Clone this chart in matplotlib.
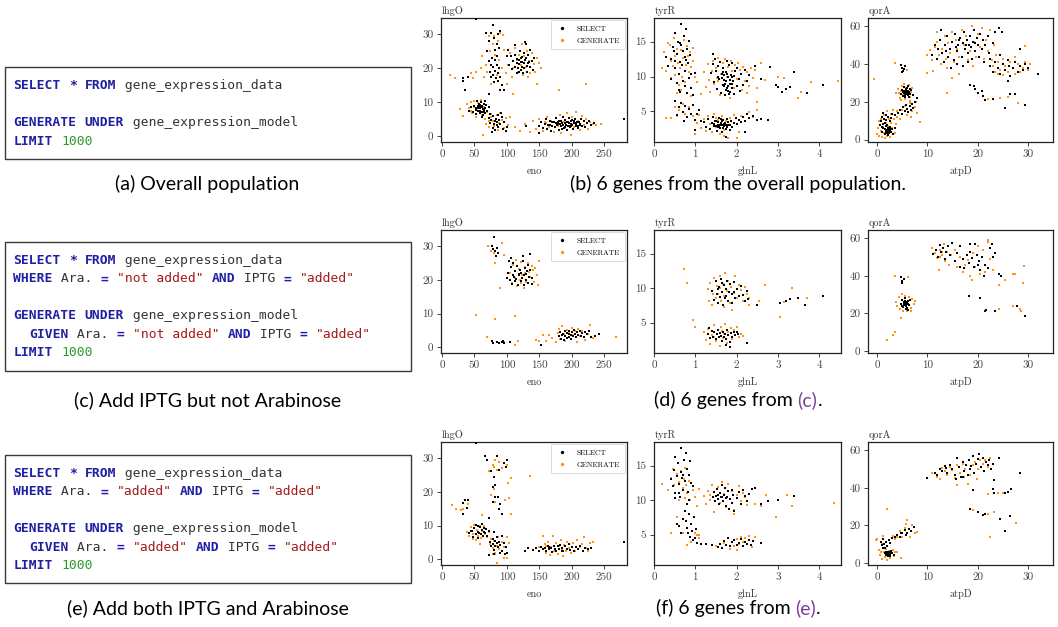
import matplotlib
matplotlib.use("Agg")
import matplotlib.pyplot as plt
from matplotlib.patches import Rectangle
from matplotlib.lines import Line2D

# ---------------------------------------------------------------- data
# (b) overall population
ALL_ENO_LHGO_SELECT = [
 (45,8.5),(48,7.2),(50,9),(52,7.8),(53,6.5),(55,8.8),(56,7.5),(57,9.6),(58,6.8),(59,8.2),(60,10.2),(61,7.1),(62,8.9),(63,6.2),(64,9.5),(65,7.7),(66,8.4),(67,6.9),(68,9.1),(70,7.4),(72,8.6),(74,6.5),(42,7.5),(54,10.3),(62,5.6),(58,9.3),(66,10.5),
 (56,8.2),(59,7.4),(61,8.6),(63,7.9),(57,8.8),(64,7.2),(60,9),(53,8.4),
 (72,5.5),(74,3.8),(76,4.8),(78,2.5),(79,5.9),(80,3.6),(81,4.6),(82,1.8),(83,5.2),(84,3.2),(85,4.2),(86,6.3),(87,2.8),(88,4.8),(90,3.5),(92,5.6),(94,2.2),(96,4.3),(98,1.5),(100,2.6),(91,6.8),(77,1.2),
 (72,22),(74,19),(75,17.5),(76,21),(77,23),(78,18),(79,20.5),(80,16),(81,22.5),(82,19.2),(83,17),(84,21),(85,23.5),(86,18.5),(87,16.2),(88,20),(90,17.5),(92,15),(70,25),(73,28),(75,30.5),(78,32.8),(80,29),(84,27),(86,30),(88,26),(90,31),(68,30.5),(82,25.5),(95,13.5),(72,12.3),
 (102,25.5),(104,21),(106,23.5),(108,19.8),(110,22.2),(112,24),(113,20.5),(115,18.7),(116,22.8),(118,21.2),(120,25),(121,19.5),(122,23),(124,21.8),(125,18.5),(126,24.5),(127,20.2),(128,22.4),(130,27.2),(131,19),(132,21.5),(133,23.8),(135,20.5),(136,25.5),(138,22),(140,19.5),(142,23),(112,26.8),(128,27.8),(118,18.9),(100,23.5),
 (115,21.5),(119,22.5),(123,20.5),(127,21.6),(130,23),(134,21.8),(117,20.2),(124,23.3),(131,20.8),(121,21.8),
 (150,3),(153,4.2),(156,2.5),(158,3.7),(160,5.1),(162,2.2),(164,3.4),(166,4.6),(168,1.5),(170,3),(172,4.1),(174,2.6),(176,5.3),(178,3.5),(180,1.8),(181,4.4),(183,2.9),(185,3.9),(186,5.6),(188,2.3),(190,4.8),(191,3.3),(193,1.9),(194,4.1),(196,5.4),(197,2.7),(199,3.6),(200,4.7),(202,2.1),(203,3.9),(205,5.2),(207,3),(208,4.3),(210,2.4),(212,3.7),(214,5),(216,3.1),(218,4.4),(220,2.6),(223,3.8),(226,4.6),(230,3.2),(234,3.9),(130,3),(150,0.9),(280,5.2),(52,34.5),(33,17),(35,13.5),(33,16.3),(40,17.5),(90,13.5),(185,2.0),(195,3.0),(205,3.8),(175,3.8),
 (177,3.2),(179,4.1),(182,3.6),(184,4.6),(187,3.4),(189,2.8),(192,4.3),(194,3.1),(196,3.8),(198,4.4),(201,3.2),(204,4.5),(206,3.5),(209,2.9),(211,4.2),(213,3.3),(189,3.9),(199,2.9),(170,4.3),(167,3.2)]
ALL_ENO_LHGO_GENERATE = [
 (28,8),(33,6),(38,9.5),(42,8.2),(45,10.2),(47,6.7),(50,8.6),(52,5.8),(55,9.7),(57,7.3),(60,10.8),(62,6.2),(64,8.7),(66,5.1),(68,9.2),(70,7),(72,4.6),(75,6.5),(50,10.5),(44,7.4),(63,0.5),
 (68,3.5),(72,2.6),(76,5.6),(80,3.1),(84,6.2),(86,1.8),(88,3.9),(92,4.9),(95,2.5),(98,5.5),(102,3.2),(105,5.8),(78,4.5),(90,6.8),
 (12,18),(20,17),(45,18.5),(48,17),(52,19),(60,20),(62,23.5),(65,17.5),(68,21),(70,19),(74,25),(76,15.5),(78,27),(80,29.5),(82,24),(84,18),(86,28),(88,22.5),(90,30.5),(92,20),(95,25.5),(98,18.5),(100,15.5),(72,29.5),(94,29.8),
 (102,21),(105,24.5),(108,17.5),(110,20),(113,26),(115,22.5),(117,19),(119,24),(121,21),(123,27),(125,18),(127,23.5),(129,20.5),(131,25),(134,22),(136,18.5),(138,24.5),(141,21.3),(144,19),(147,23),(150,21.5),(153,20),(146,15.5),(110,12.5),(132,17.5),
 (112,2.8),(120,1.5),(128,3.5),(135,1.2),(140,4.5),(145,2),(150,5),(155,1.5),(158,4.2),(162,5.8),(165,2.8),(168,4.5),(172,1.2),(175,5.5),(178,3),(182,6.3),(184,1),(187,4.2),(190,2.4),(192,6.8),(195,3.8),(198,0.5),(201,5.8),(204,2.8),(206,7.2),(209,4.5),(212,1.8),(215,6),(218,3.2),(222,5),(225,2.2),(228,4.3),(232,3.5),(238,3.2),(245,3.6),(180,13.5),(222,15.5),(160,3.8),(190,4.2),(200,3.5)]
ALL_GLNL_TYRR_SELECT = [
 (0.4,12.5),(0.45,14.2),(0.5,16.3),(0.5,11.2),(0.55,13.3),(0.58,15),(0.6,10.4),(0.62,12.1),(0.65,17.5),(0.66,14.5),(0.68,11.6),(0.7,13.6),(0.72,15.8),(0.74,12.8),(0.75,10.8),(0.78,16.8),(0.8,14),(0.82,11.9),(0.85,15.1),(0.88,13.1),(0.9,10.3),(0.35,11.5),(0.42,9.6),(0.48,13.7),(0.55,9.1),(0.6,8.1),(0.64,7.8),(0.7,9.4),(0.76,8.7),(0.8,7.6),(0.85,9.8),(0.9,8.4),(0.95,7.3),(1.0,10.5),(0.3,12.8),(0.52,12.3),(0.78,12.4),(0.62,14.8),
 (1.38,10.5),(1.42,11.8),(1.45,9.2),(1.5,10.8),(1.52,8.2),(1.55,11.5),(1.58,9.7),(1.6,12.1),(1.62,7.6),(1.64,10.3),(1.66,8.8),(1.68,11.2),(1.7,9.5),(1.72,7.3),(1.74,10.7),(1.76,12.3),(1.78,8.4),(1.8,9.9),(1.82,11.6),(1.84,7.8),(1.86,10.2),(1.88,8.9),(1.9,11.9),(1.92,9.4),(1.95,7.5),(1.97,10.8),(2.0,8.6),(2.02,11.3),(2.05,9.6),(2.08,7.9),(2.1,10.4),(2.15,8.8),(2.2,11),(2.25,9.3),(2.3,10.2),(1.75,8.1),(1.65,9.8),(1.85,9.0),(1.55,10.0),(1.95,10.1),(1.8,8.0),(1.7,10.2),(1.47,12.5),(1.43,13.3),
 (1.7,8.7),(1.75,9.3),(1.8,8.6),(1.85,9.5),(1.78,10.4),(1.72,9.0),(1.9,8.3),(1.82,7.5),(1.88,9.9),(1.68,10.6),
 (0.5,6.5),(0.55,4.5),(0.6,5.6),(0.65,6.2),(0.7,4.9),(0.75,5.8),(0.8,4.2),(0.85,5.3),(0.9,4.6),(0.95,5.9),(1.0,3.8),(1.05,4.6),(1.1,5.2),(1.15,3.6),(0.72,3.6),(1.0,2.3),
 (1.2,3.5),(1.25,2.8),(1.3,3.9),(1.35,2.5),(1.4,3.3),(1.42,4.2),(1.45,2.9),(1.5,3.6),(1.52,2.2),(1.55,3.1),(1.58,4),(1.6,2.6),(1.62,3.4),(1.65,2.1),(1.68,3.8),(1.7,2.9),(1.72,3.3),(1.75,2.5),(1.78,3.9),(1.8,3.1),(1.83,2.4),(1.86,3.6),(1.9,2.8),(1.94,3.4),(1.98,4.1),(2.02,3.2),(2.06,3.8),(2.1,3.5),(2.15,4.2),(2.2,3.7),(2.25,4.6),(2.3,4.0),(2.4,4.4),(1.75,1.3),(2.2,2.0),(1.55,2.7),(1.65,3.0),
 (1.45,3.2),(1.5,2.9),(1.55,3.5),(1.6,3.1),(1.65,3.6),(1.7,3.2),(1.75,3.0),(1.8,3.5),(1.58,2.8),(1.68,2.6),(1.78,2.8),(1.85,3.1),(1.48,3.7),(1.62,3.9),
 (2.5,3.8),(2.6,3.9),(2.75,3.8),(2.45,11.5),(2.8,11.4),(2.6,9.6),(2.95,8.8),(3.0,8.5),(3.1,7.8),(3.2,8.2),(3.3,8.5),(3.4,10.6),(3.7,7.6),(4.1,8.8)]
ALL_GLNL_TYRR_GENERATE = [
 (0.2,11.2),(0.25,13.5),(0.3,10.8),(0.35,14.8),(0.4,12.2),(0.42,9.8),(0.45,11.5),(0.48,15.5),(0.5,13),(0.52,10.2),(0.55,14),(0.58,12),(0.6,8.8),(0.62,11.3),(0.65,13.8),(0.68,10),(0.7,12.6),(0.72,15.2),(0.75,9.2),(0.78,11.7),(0.8,14.4),(0.82,12.9),(0.85,10.6),(0.88,13.5),(0.9,11.4),(0.95,12.2),(1.0,9.9),(0.55,7.6),(0.65,8.1),(0.9,7.2),(0.38,14.5),(0.95,14.1),(1.05,9.2),(1.15,7.5),
 (1.2,10.6),(1.25,8.5),(1.3,11.8),(1.33,9.5),(1.36,7.8),(1.4,10.8),(1.43,12.3),(1.46,8.9),(1.5,11.2),(1.53,9.8),(1.56,12.7),(1.6,7.3),(1.63,10.4),(1.66,11.9),(1.7,8.6),(1.73,12.5),(1.76,9.9),(1.8,11.4),(1.83,7),(1.86,12.2),(1.9,10.8),(1.93,8.3),(1.96,11.7),(2.0,9.6),(2.04,12),(2.08,10.9),(2.12,8.1),(2.16,11.4),(2.2,9.3),(2.25,10.6),(2.3,8.7),(2.35,11.3),(2.4,9.8),(2.45,10.9),(2.5,8.4),(1.55,9.3),(1.95,7.5),(2.25,7.6),
 (0.4,4),(0.5,5.6),(0.55,4.3),(0.6,5.2),(0.7,6),(0.75,4.7),(0.85,5.6),(0.95,4.4),(1.0,1.8),(1.05,3.4),(1.1,4.5),(1.15,2.6),(1.2,3.9),(1.25,2.2),(1.3,4.3),(1.35,3.2),(1.4,2),(1.45,4.6),(1.5,2.8),(1.55,3.8),(1.6,1.7),(1.65,4.4),(1.7,2.4),(1.75,3.6),(1.8,1.2),(1.85,4.1),(1.9,2.7),(1.95,4.5),(2.0,3.2),(2.05,2.1),(2.1,4.3),(2.2,3.6),(2.3,4.9),(2.4,4.2),(2.5,5.2),(2.5,6.3),(1.5,4.0),(1.7,1.5),(2.0,1.2),
 (2.6,12),(3.0,10),(3.15,9.8),(3.5,7),(3.55,7.8),(3.8,9.2),(4.45,9.3),(2.7,9.5),(0.3,4)]
ALL_ATPD_QORA_SELECT = [
 (11,45),(11.5,50),(12,43),(12.2,48),(12.5,53),(13,46),(13.3,41),(13.5,50),(14,55),(14.2,44),(14.5,48),(15,52),(15.3,42),(15.5,56),(16,47),(16.2,50),(16.5,54),(16.8,44),(17,51),(17.2,57),(17.5,48),(17.8,53),(18,46),(18.2,50),(18.5,55),(18.8,43),(19,52),(19.3,58),(19.5,47),(19.8,54),(20,50),(20.3,44),(20.5,56),(20.8,48),(21,53),(21.3,41),(21.5,50),(22,55),(22.3,46),(22.5,43),(23,51),(23.5,57),(24.2,59),(24.8,57),(12.8,58),(14.8,38),(16,40),(17,39),(18,41),(13.8,47),(15.8,49),(17.6,50),(19.4,51),(16.4,53),(18.6,49),
 (22.5,39),(23,36),(23.5,41),(24,38),(24.5,35),(25,40),(25.5,37),(26,42),(26.2,39),(26.5,34),(27,38),(27.5,41),(28,36),(28.5,39),(29,37),(29.5,40),(30,38),(26,31),(24.5,45),(32,35),(28.5,48),
 (4.8,24),(5,26.5),(5.2,23),(5.3,28),(5.5,25),(5.6,22.5),(5.7,27),(5.8,24.5),(6,26),(6.1,23.5),(6.2,28.5),(6.3,25.5),(6.5,24),(6.6,27),(5.4,26),(5.9,25.8),(6.4,22.6),(5.1,25.2),(6.8,26.5),(7.2,23.5),(8,22),
 (5.6,25.3),(5.8,25),(6,25.2),(5.5,24),(5.7,26),(5.9,24),(6.1,25),(5.4,24.8),(5.8,26.5),(6.2,25.8),(5.6,23.5),(6,27.3),
 (4.2,14),(4.6,16),(5,13.5),(5.2,17.5),(5.5,15),(5.8,18.5),(6,16.5),(6.2,14.5),(6.5,18),(6.8,16),(7,19),(7.2,17),(7.5,20),(3.5,13),
 (4.7,39.5),(5,38),(5.2,36.5),(5.5,39),(5.3,37.5),(4.9,36),
 (1,4),(1.2,6),(1.5,3),(1.6,5.5),(1.8,7.5),(2,4.5),(2.1,2.5),(2.2,6),(2.3,3.5),(2.5,5),(2.6,7),(2.8,4),(3,5.5),(3.2,3),(3.5,6),(2.4,4.3),(1.9,5.2),(2.7,5.8),(0.6,8),(0.8,10),(1,12),(1.2,8.5),(1.4,11),(1.5,9),(1.7,13),(1.8,10.5),(2,8),(2.2,12),(2.5,10),(2.8,11.5),(3,13.5),(1.1,14),(0.9,6.5),
 (1.8,4.5),(2,5),(2.2,4.5),(2.4,5.5),(2,3.8),(2.2,5.6),(2.6,4.5),(1.7,4),(2.3,4.8),(2.1,5.8),
 (18.5,29),(19.5,27),(20,25),(21,23),(21.5,21),(23,21.5),(25.5,17),(26.5,24),(27.5,24),(29.5,18.5),(19.3,28.5),(20.8,26)]
ALL_ATPD_QORA_GENERATE = [
 (10,45),(10.5,47.5),(11,42),(11.5,49),(12,52),(12.3,45),(12.7,40),(13,48),(13.5,55),(13.8,43),(14.2,51),(14.6,46),(15,57),(15.3,41),(15.7,53),(16,48),(16.4,44),(16.8,58),(17.2,50),(17.6,55),(18,42),(18.4,47),(18.8,60),(19.2,52),(19.6,44),(20,56),(20.4,49),(20.8,59),(21.2,43),(21.6,53),(22,47),(22.4,58),(22.8,42),(23.2,50),(23.6,45),(12,57),(14,38),(11.2,36.5),(16.3,35),(19,39),
 (23,39),(23.5,36),(24,41),(24.5,37),(25,43),(25.5,39),(26,36),(26.5,41),(27,38),(27.5,44),(28,40),(28.5,36),(29,38),(29.5,41),(30,37),(30.5,40),(25,34.5),(27.5,35),
 (3.8,24.5),(4.2,27),(4.5,22),(4.7,26),(5,28.5),(5.2,23.5),(5.5,21.5),(5.8,27.5),(6,24),(6.3,29),(6.5,22.5),(6.8,25.5),(7,27.5),(4.4,25),(6.6,20.5),(5.4,29.5),
 (3.5,13),(4,15),(4.5,11),(5,16),(5.5,18),(6,13),(6.5,19.5),(7,15),(7.5,17.5),(8,14),(8.5,9.5),(4.8,21),(6.8,12),(7.8,20),
 (0,3),(0.2,6),(0.4,2),(0.5,8),(0.7,4.5),(0.8,11),(1,1.5),(1.1,7),(1.3,3.5),(1.4,13),(1.6,5.5),(1.7,9),(1.9,2),(2,15),(2.1,7.5),(2.3,11),(2.4,4),(2.6,1.5),(2.8,9),(3,6),(3.2,16),(3.5,3.5),(3.8,8.5),(4,12),(0.3,10),(2.7,13.5),(1.5,1),(3.3,11),
 (-0.7,32),(3.5,40.5),(6,37),(10,35.5),(14,24.5),(15,32.5),(22,21.5),(24.5,22),(26,22.5),(28,19.5),(29.5,49.5),(24,35)]

# (d) Ara. not added, IPTG added
NOARA_ENO_LHGO_SELECT = [
 (102,22),(104,25.5),(105,20),(106,23.8),(108,18.8),(109,21.5),(110,25),(112,19.6),(113,22.6),(114,20.3),(116,24),(117,18.5),(118,21.7),(120,23),(121,19.8),(122,22),(124,20.5),(125,25.5),(126,18.6),(127,21.4),(128,23.4),(130,20),(131,22.5),(132,24.5),(133,19.2),(134,21),(136,23),(138,18.7),(139,20.5),(135,27.8),(125,27),(100,20.5),(107,26.5),(111,21),(119,21.3),(129,21.8),
 (80,32.8),(79,29.3),(82,28.5),(85,29.4),(87,28),(77,30),(83,27.2),
 (180,3.2),(182,4.5),(184,2.5),(186,3.8),(188,2.2),(189,4.9),(190,3.3),(192,2.8),(193,4.2),(195,3),(196,4.7),(198,3.6),(199,2.4),(200,4.4),(202,3.3),(204,5),(205,3.8),(207,2.9),(208,4.5),(210,3.7),(212,4.8),(214,3.4),(216,4.2),(218,3.1),(221,4.6),(224,3.8),(230,3),(242,4),(236,3.2),(227,4.9),(185,3.5),(195,4),
 (77,2),(79,1.2),(84,1.5),(88,1.3),(92,1.7),(96,1.2),(105,1.5),(152,0.7),(94,1.8)]
NOARA_ENO_LHGO_GENERATE = [
 (105,22),(108,19),(110,24.5),(112,20.7),(114,26),(116,18.2),(118,23.2),(120,20),(122,25.3),(124,21.5),(126,17.5),(128,23.8),(130,19.5),(132,25),(134,22.2),(136,20.8),(138,24),(140,22.8),(142,19.3),(144,23.5),(147,21.5),(150,25.7),(148,18.5),(118,21.5),(128,22),(122,19),
 (71,30),(76,28.5),(80,28),(84,29.5),(93,31),(96,27.4),(90,17.5),(82,25),
 (52,9.5),(82,8.4),(112,9.2),
 (160,2),(165,3.5),(170,2.8),(175,1.5),(178,4.2),(180,5.5),(182,2.6),(185,6.2),(188,3.8),(190,1.8),(192,5.2),(195,4.4),(198,2.5),(200,5.8),(202,3.6),(205,4.8),(208,1.5),(210,5.5),(213,3.2),(216,4.9),(220,2.2),(225,3.8),(228,6.5),(232,2.8),(268,3),(156,3.5),(150,1.8),
 (70,3),(112,0.7),(117,2),(95,1.6),(145,2.1)]
NOARA_GLNL_TYRR_SELECT = [
 (1.4,9.6),(1.45,8.3),(1.5,11),(1.52,9.1),(1.55,7.9),(1.58,10.2),(1.6,8.7),(1.62,11.3),(1.65,9.4),(1.68,7.5),(1.7,10.5),(1.72,8.6),(1.75,9.8),(1.78,11.1),(1.8,8.2),(1.82,9.5),(1.85,10.6),(1.88,7.8),(1.9,9.2),(1.93,10.9),(1.96,8.5),(2.0,9.9),(2.05,8.8),(2.1,10.3),(2.15,9),(2.2,8.1),(2.25,9.6),(2.28,8.4),(1.55,9.8),(1.75,8.9),(1.95,9.4),(1.65,10.8),
 (1.3,3.4),(1.33,4.3),(1.36,2.8),(1.4,3.8),(1.43,3),(1.46,3.6),(1.5,2.6),(1.52,3.3),(1.55,4),(1.58,2.9),(1.6,3.5),(1.62,3.1),(1.65,2.4),(1.68,3.7),(1.7,3),(1.72,3.4),(1.75,2.7),(1.78,3.9),(1.8,3.2),(1.83,2.2),(1.86,3.5),(1.9,2.9),(1.93,3.6),(1.96,3.2),(2.0,3.7),(2.04,3.3),(1.75,1.8),(1.85,1.5),(2.25,2),
 (2.5,7.5),(3.05,7.8),(3.2,8.2),(3.3,8.4),(3.48,8.6),(3.65,7.6),(4.1,8.9)]
NOARA_GLNL_TYRR_GENERATE = [
 (1.3,9.8),(1.33,8.2),(1.36,10.7),(1.4,7.6),(1.43,9.2),(1.46,11.4),(1.5,8.5),(1.53,10.3),(1.56,9.1),(1.6,11.8),(1.63,8.1),(1.66,10.6),(1.7,7.2),(1.73,12.2),(1.76,9.6),(1.8,11),(1.83,7.9),(1.86,10.2),(1.9,6.8),(1.93,9.3),(1.96,11.7),(2.0,8.6),(2.05,10.4),(2.1,9.7),(2.15,8.2),(2.2,10.1),(2.25,9.2),(2.3,7.6),(2.3,8.5),(1.6,10),(1.7,8.9),
 (1.2,3.6),(1.25,2.5),(1.3,4.1),(1.35,1.9),(1.4,3.2),(1.45,4.6),(1.5,2.3),(1.55,3.9),(1.6,1.6),(1.63,4.4),(1.66,2.8),(1.7,3.4),(1.73,4.8),(1.76,2),(1.8,3.7),(1.83,1.5),(1.86,4.2),(1.9,2.6),(1.95,3.9),(2.0,4.4),(2.05,2.9),(2.1,3.4),(2.15,3.1),(1.65,3.8),(1.45,3),
 (0.73,12.8),(0.8,10.8),(0.95,5.4),(1.0,4.4),(2.7,10.4),(3.35,10),(3.7,8.5),(3.05,5.8),(2.55,8.2),(3.15,8),(2.3,7.6)]
NOARA_ATPD_QORA_SELECT = [
 (11.2,51.5),(11.8,54),(12.2,50),(12.5,56.5),(12.8,52.5),(13.2,55),(13.5,49),(13.8,53),(14.2,56),(14.5,51),(15,57.5),(15.5,48),(16,52),(16.5,45),(17,49),(17.3,44),(17.8,51),(18.2,47),(18.5,53),(18.8,49.5),(19.2,45),(19.5,57),(19.8,51),(20.2,48),(20.5,43),(20.8,50),(21.2,40),(21.5,46),(22,44),(22.5,55),(23,50),(23.5,52),(22.8,57),(24.2,41),(24.6,40),(16.5,56),(18.5,57),(20,46),
 (4.8,25),(5,27),(5.2,23.5),(5.4,26),(5.5,24.5),(5.6,28),(5.8,25.5),(6,23),(6.1,26.5),(6.3,24.5),(6.5,27),(5.7,22.5),(5.3,25.5),(5.9,26),(6.2,22),(5.05,24),
 (5.5,25.5),(5.7,24.8),(5.9,25.3),(5.4,24.2),(6,25.8),(5.6,26.5),(5.8,24),(6.2,24.8),
 (4.8,39.5),(5,37),(5.3,38.5),(4.9,36),
 (18.3,29.5),(20.5,28),(21.5,21),(21.7,22),(23.5,21.5),(27.8,24),(29.5,18.5)]
NOARA_ATPD_QORA_GENERATE = [
 (11,55),(11.5,52),(12,49.5),(12.3,43),(12.6,54),(13,51),(13.3,57),(13.6,48),(14,53),(14.4,46),(14.8,51),(15.5,54),(16.5,50),(17,42),(17.5,46),(18,48.5),(18.5,40),(19,52),(19.5,45),(20,56),(20.5,41),(21,54),(21.5,42),(22,58),(22.5,49),(23,43),(22,59),(13,52.5),(16,45),(18.8,38),(12.5,50),
 (25.5,38),(27,41),(27.5,41),(29.2,45.5),(29.1,36),(24.3,35),(24.3,22.5),(27,24),(28.5,22.5),(28.7,21.5),
 (3.7,26),(4,24),(4.3,28.5),(4.6,22.5),(5,30.5),(5.2,21.5),(5.5,29),(6,21),(6.4,28.5),(6.7,23),(7,27.5),(7.3,25),(7.5,26.5),(4.7,17.5),(6.8,21.5),
 (3.5,40),(6.2,39.5),(2,5.8),(3.2,8.3),(3.5,9.8)]

# (f) Ara. added, IPTG added
BOTH_ENO_LHGO_SELECT = [
 (42,7.8),(45,8.5),(48,6.5),(50,9.2),(52,7.4),(53,10.3),(55,8),(56,6.2),(58,9.5),(60,7.5),(61,10.5),(62,8.6),(63,6.8),(65,9.3),(66,7.8),(68,8.9),(70,7),(72,8.3),(57,7.9),(64,8.1),(55,10),(47,8.5),
 (74,5),(76,3.8),(78,6),(79,4.5),(80,2.7),(81,5.3),(82,3.8),(84,4.7),(85,6.5),(86,3.5),(88,5.1),(90,4.2),(92,2.5),(95,4.8),(98,3.6),(100,2),(72,1.2),(80,1.5),(90,1.8),(97,1.6),(80,8),(92,6.8),
 (66,30.5),(70,29.5),(75,26.3),(80,24.5),(81,22),(82,18.5),(85,30.5),(88,26.5),(95,28.5),(98,27.5),(100,29.5),(78,21.5),(78,17),(86,18.5),(90,16.5),(92,13.5),(72,12.3),(88,15),
 (35,17.5),(32,16.8),(33,13.5),(40,17.5),(38,15.3),(52,34.5),
 (128,2.6),(133,3.3),(140,2.7),(145,3.2),(150,2.5),(152,3.6),(155,2.9),(158,3.4),(160,2.4),(163,3.8),(165,2.9),(168,3.3),(170,2.1),(172,4),(174,3.1),(176,2.5),(178,3.8),(180,2.9),(182,4.2),(185,3.3),(187,2.4),(190,3.9),(192,3),(195,4.4),(197,2.8),(200,3.5),(203,2.6),(206,3.7),(210,3.1),(213,4),(217,2.6),(221,3.4),(225,3),(230,3.4),(280,5.2),(165,3.5),(185,2.6)]
BOTH_ENO_LHGO_GENERATE = [
 (38,8),(42,6.8),(45,9.5),(48,7.5),(50,10.3),(52,5.8),(54,8.8),(56,7),(58,9.9),(60,6.2),(62,8.5),(64,10),(66,7.5),(68,9),(70,6.5),(72,8),(48,6),(58,4.5),(62,13),(56,8),
 (74,4.5),(76,6),(78,3.2),(80,5.5),(82,2),(84,4),(86,6.5),(88,3),(92,5),(96,3.5),(100,6.5),(85,-1.2),(95,0.3),(100,0.3),(78,1.5),(104,4.8),(82,1.5),
 (72,26.3),(78,28),(80,27.5),(82,29.5),(84,26.5),(88,29),(92,27),(100,28),(103,18.2),(106,24.2),(106,13.5),(82,17),(75,19),(80,21),(97,17.5),(102,22.5),
 (15,16.2),(22,15),(32,15),(40,16.5),(30,14.5),(135,24.8),
 (155,7),(158,4.5),(160,2),(163,5.2),(166,1.2),(168,3.5),(171,6.8),(173,2.5),(176,4.8),(178,1.5),(181,3.8),(184,5.6),(186,1),(188,4.2),(191,2.6),(193,5.2),(196,3.2),(199,1.8),(202,4.8),(205,2.6),(208,5.6),(212,3.5),(215,4.6),(218,6.5),(222,3.3),(225,2.4),(228,4.8),(232,5.2),(150,3.5),(160,4),(185,3)]
BOTH_GLNL_TYRR_SELECT = [
 (0.42,13),(0.45,12),(0.48,14.4),(0.5,16.2),(0.52,11),(0.55,13.5),(0.58,15.3),(0.6,12.4),(0.62,10.5),(0.65,17.5),(0.66,14),(0.68,13.2),(0.7,11.5),(0.72,15.8),(0.75,12.8),(0.78,16.8),(0.8,14.5),(0.82,11.2),(0.85,13.6),(0.88,15.7),(0.9,12.5),(0.6,11),(0.7,13.6),(0.5,10.3),(0.95,12),
 (0.55,6.5),(0.6,6.3),(0.65,5.3),(0.7,7.2),(0.75,8.4),(0.78,7),(0.8,6),(0.82,5.2),(0.85,8),(0.88,4.6),(0.9,6.5),(0.92,5.5),(0.95,4.2),(0.98,7.5),(1.0,4.5),(1.02,5.8),(0.85,10),(0.8,9.5),
 (1.05,3.8),(1.15,3.6),(1.25,3.6),(1.4,3.5),(1.55,3.2),(1.6,3.7),(1.7,4.1),(1.75,3.5),(1.8,4.5),(1.85,3.3),(1.9,3.9),(1.95,4.2),(2.0,3.5),(2.05,3.8),(2.1,4.4),(2.15,3.4),(2.2,4),(2.25,3.6),(2.3,4.3),(2.35,3.5),(2.4,4.1),(2.6,3.8),(1.65,3.1),
 (1.42,10.5),(1.45,11.2),(1.48,9.8),(1.5,10.6),(1.52,11.6),(1.55,10.2),(1.58,9.5),(1.6,11),(1.62,10.4),(1.65,12.2),(1.68,9.9),(1.7,10.8),(1.72,11.8),(1.75,9.2),(1.78,10.5),(1.8,11.3),(1.82,8.7),(1.85,10.1),(1.88,11.5),(1.9,9.6),(1.92,10.8),(1.95,8.4),(2.0,10.3),(2.05,11.2),(2.1,9.5),(2.15,11.5),(2.2,10.6),(2.25,9.8),(2.38,11.6),(2.3,10.9),(1.55,10.7),(1.65,10.5),(1.75,10.3),
 (2.6,9.4),(2.75,9.8),(3.0,10),(3.38,10.6),(2.45,11.7)]
BOTH_GLNL_TYRR_GENERATE = [
 (0.2,12.3),(0.35,11.5),(0.4,13.2),(0.45,14.5),(0.48,12.2),(0.5,11),(0.55,13.8),(0.6,12.6),(0.62,10.4),(0.65,14.2),(0.7,11.8),(0.72,13),(0.75,10.3),(0.78,12.2),(0.8,11),(0.85,12.8),(0.88,10),(0.9,12.5),(0.95,11.5),(1.0,10.5),(1.05,9.2),(1.1,11.6),(0.75,14.7),(0.6,10),
 (0.4,5.2),(0.55,7.6),(0.8,3.5),(0.9,4),(1.0,5.3),(1.05,4.9),(1.08,4.5),(0.7,5.2),(1.1,5),
 (1.2,10.6),(1.25,9.5),(1.3,11.3),(1.35,10),(1.4,12.2),(1.45,8.3),(1.5,10.6),(1.55,11.9),(1.6,9.6),(1.65,12.6),(1.7,10.9),(1.75,9),(1.8,12.4),(1.85,10.2),(1.9,11.3),(1.95,8.5),(2.0,10.8),(2.05,12),(2.1,9.8),(2.15,11),(2.2,10.4),(2.25,9.3),(1.95,8.0),(1.35,10.8),
 (1.5,3.4),(1.7,3.8),(1.85,2.9),(1.9,4),(1.95,3.3),(2.0,4.4),(2.05,3.6),(2.1,4.7),(2.15,3.9),(2.2,4.5),(2.25,3.6),(2.3,4.8),(2.38,3.2),(2.45,4.6),(2.0,2.8),
 (2.6,9.1),(2.72,10.8),(3.22,10.8),(3.35,9.2),(2.95,7.5),(4.35,9.6),(2.45,9.5)]
BOTH_ATPD_QORA_SELECT = [
 (10,45.5),(11.5,48),(12,47),(12.5,50),(13,49),(13.5,51.5),(13.8,50.5),(14,48),(14.5,52),(15,50),(15.5,47),(16,56),(16.3,51),(16.6,46),(17,54),(17.3,49),(17.6,52),(18,47),(18.3,55),(18.6,51.5),(19,57),(19.3,48),(19.6,53),(20,55.5),(20.3,58),(20.6,51),(21,56),(21.3,49),(21.6,54),(22,52),(22.3,55),(22.6,50),(23,53),(24.2,56),(19,39),(23.2,37),(23.3,44),(17,46),(15.8,45),(18.5,50),
 (25.5,37.5),(26,38),(26.7,39.5),(28.5,48),(23,39.5),
 (18.5,28.5),(20,27),(21,25.5),(21.5,26),(24.5,23.5),(25.5,17),(26.5,25),
 (1.5,5),(1.8,4),(2,6),(2.1,3.5),(2.3,5.5),(2.5,4.5),(2.7,6.5),(3,5),(3.3,4),(2.2,5),(1.9,5.3),(2.6,3.8),(0.8,11),(1,9.5),(1.2,12.5),(1.3,10),(1.5,8),(1.7,11),(2,9),(2.3,12),(2.6,10.5),(1.1,8),(3,13),(3.5,13.5),(4,15),(4.5,14),(5,16),(5.5,17.5),(6,16),(6.3,18),(6.8,17),(7.3,19),(5.8,15),(4.8,15.8),
 (2,4.8),(2.2,5.3),(2.4,4.5),(2.1,4),(2.3,5.8),(1.8,5.8),(2.5,5.2),(1.9,4.4)]
BOTH_ATPD_QORA_GENERATE = [
 (11,48),(12,46),(12.5,45),(13,50.5),(13.5,49),(14,47),(14.5,51),(15,49.5),(15.5,45.5),(16,52),(16.5,48),(17,53),(17.5,50),(18,42),(18.5,47),(19,52),(19.5,54),(20,50),(20.5,55),(21,53),(21.5,55),(22,51),(22.5,56),(17.2,46),(16,41.5),(19.8,44.5),
 (22,36.5),(24,37.5),(25,37),(19,28),(22,26),(23.2,27),(22.5,14),(27.7,21.5),
 (-0.3,12),(0,12.5),(0.3,7),(0.6,4),(0.8,6),(1,2),(1.2,8),(1.4,5.5),(1.6,3),(1.8,7.5),(2,1.5),(2.2,4),(2.4,6.5),(2.6,2.5),(2.8,5),(3.1,7),(3.3,3.5),(3.6,5.5),(4,6),(1.2,14.5),(2,28.5),(4.8,2.5),(1,10),
 (3.5,12.5),(4,14),(4.5,17),(5,13.5),(5.5,18.5),(6,23),(6.5,14),(7,20),(7.5,16),(8,16.5),(5.8,20.5),(3.2,14.5)]

X_LABELS = ["eno", "glnL", "atpD"]
Y_LABELS = ["lhgO", "tyrR", "qorA"]
X_TICKS = [[0, 50, 100, 150, 200, 250], [0, 1, 2, 3, 4], [0, 10, 20, 30]]
Y_TICKS = [[0, 10, 20, 30], [5, 10, 15], [0, 20, 40, 60]]
X_LIMS = [(-1.5, 285), (0, 4.53), (-1.8, 35)]
Y_LIMS = [(-1.7, 34.8), (0.62, 18.4), (-1.2, 64.5)]
SERIES = ["SELECT", "GENERATE"]

ROWS = [
    [(ALL_ENO_LHGO_SELECT, ALL_ENO_LHGO_GENERATE), (ALL_GLNL_TYRR_SELECT, ALL_GLNL_TYRR_GENERATE), (ALL_ATPD_QORA_SELECT, ALL_ATPD_QORA_GENERATE)],
    [(NOARA_ENO_LHGO_SELECT, NOARA_ENO_LHGO_GENERATE), (NOARA_GLNL_TYRR_SELECT, NOARA_GLNL_TYRR_GENERATE), (NOARA_ATPD_QORA_SELECT, NOARA_ATPD_QORA_GENERATE)],
    [(BOTH_ENO_LHGO_SELECT, BOTH_ENO_LHGO_GENERATE), (BOTH_GLNL_TYRR_SELECT, BOTH_GLNL_TYRR_GENERATE), (BOTH_ATPD_QORA_SELECT, BOTH_ATPD_QORA_GENERATE)],
]

CODE_A = [
    [("SELECT", "kw"), (" ", "p"), ("*", "kw"), (" ", "p"), ("FROM", "kw"), (" gene_expression_data", "p")],
    [],
    [("GENERATE", "kw"), (" ", "p"), ("UNDER", "kw"), (" gene_expression_model", "p")],
    [("LIMIT", "kw"), (" ", "p"), ("1000", "num")],
]
CODE_C = [
    [("SELECT", "kw"), (" ", "p"), ("*", "kw"), (" ", "p"), ("FROM", "kw"), (" gene_expression_data", "p")],
    [("WHERE", "kw"), (" Ara. ", "p"), ("=", "kw"), (" ", "p"), ('"not added"', "str"), (" ", "p"), ("AND", "kw"), (" IPTG ", "p"), ("=", "kw"), (" ", "p"), ('"added"', "str")],
    [],
    [("GENERATE", "kw"), (" ", "p"), ("UNDER", "kw"), (" gene_expression_model", "p")],
    [("  ", "p"), ("GIVEN", "kw"), (" Ara. ", "p"), ("=", "kw"), (" ", "p"), ('"not added"', "str"), (" ", "p"), ("AND", "kw"), (" IPTG ", "p"), ("=", "kw"), (" ", "p"), ('"added"', "str")],
    [("LIMIT", "kw"), (" ", "p"), ("1000", "num")],
]
CODE_E = [
    [("SELECT", "kw"), (" ", "p"), ("*", "kw"), (" ", "p"), ("FROM", "kw"), (" gene_expression_data", "p")],
    [("WHERE", "kw"), (" Ara. ", "p"), ("=", "kw"), (" ", "p"), ('"added"', "str"), (" ", "p"), ("AND", "kw"), (" IPTG ", "p"), ("=", "kw"), (" ", "p"), ('"added"', "str")],
    [],
    [("GENERATE", "kw"), (" ", "p"), ("UNDER", "kw"), (" gene_expression_model", "p")],
    [("  ", "p"), ("GIVEN", "kw"), (" Ara. ", "p"), ("=", "kw"), (" ", "p"), ('"added"', "str"), (" ", "p"), ("AND", "kw"), (" IPTG ", "p"), ("=", "kw"), (" ", "p"), ('"added"', "str")],
    [("LIMIT", "kw"), (" ", "p"), ("1000", "num")],
]
CAPTIONS_LEFT = ["(a) Overall population", "(c) Add IPTG but not Arabinose", "(e) Add both IPTG and Arabinose"]
CAPTIONS_RIGHT = [[("(b) 6 genes from the overall population.", "k")],
                  [("(d) 6 genes from ", "k"), ("(c)", "link"), (".", "k")],
                  [("(f) 6 genes from ", "k"), ("(e)", "link"), (".", "k")]]

# ---------------------------------------------------------------- styling
W, H = 1058, 627
fig = plt.figure(figsize=(W / 100, H / 100), dpi=100)
plt.rcParams["axes.unicode_minus"] = False

SEL_COLOR = "black"
GEN_COLOR = "#ff9414"
CODE_COLORS = {"kw": "#1f1fa3", "p": "#333333", "str": "#a31a1a", "num": "#2e9a2e"}
CODE_WEIGHT = {"kw": "bold", "p": "normal", "str": "normal", "num": "normal"}
CAP_COLORS = {"k": "black", "link": "#7f3f9a"}
SERIF = "cmr10"
MONO = "DejaVu Sans Mono"
SANS = "Lato"


def fx(px):
    return px / W


def fy(py):
    return 1 - py / H


# ---------------------------------------------------------------- code boxes
CHAR_W = 7.95
LINE_H = 18.5
BOXES = [(CODE_A, 67, 159, 89.3), (CODE_C, 241.7, 370.7, 263.7), (CODE_E, 455, 583, 476.7)]
for code, top, bottom, base0 in BOXES:
    fig.patches.append(Rectangle((fx(5), fy(bottom)), fx(406), (bottom - top) / H,
                                 transform=fig.transFigure, fill=False,
                                 edgecolor="#3a3a3a", linewidth=1.0))
    for li, line in enumerate(code):
        col = 0
        for tok, sty in line:
            if tok.strip():
                fig.text(fx(13.3 + col * CHAR_W), fy(base0 + li * LINE_H), tok,
                         family=MONO, fontsize=9.4, color=CODE_COLORS[sty],
                         fontweight=CODE_WEIGHT[sty], ha="left", va="baseline")
            col += len(tok)

# ---------------------------------------------------------------- captions
CAP_BASE = [190, 406, 614]
CAP_SIZE = 14
for i, cap in enumerate(CAPTIONS_LEFT):
    fig.text(fx(207.5), fy(CAP_BASE[i]), cap, family=SANS, fontsize=CAP_SIZE,
             ha="center", va="baseline")

renderer = fig.canvas.get_renderer()
for i, parts in enumerate(CAPTIONS_RIGHT):
    texts = [fig.text(0, fy(CAP_BASE[i]), s, family=SANS, fontsize=CAP_SIZE,
                      color=CAP_COLORS[c], ha="left", va="baseline") for s, c in parts]
    widths = [t.get_window_extent(renderer).width for t in texts]
    x = 738 - sum(widths) / 2
    for t, w in zip(texts, widths):
        t.set_x(fx(x))
        x += w

# ---------------------------------------------------------------- scatter panels
COL_X = [(441, 627), (654, 841), (868, 1053)]
ROW_Y = [(18, 142), (230, 353), (442, 565)]
TICK_COLOR = "#444444"

for r, row in enumerate(ROWS):
    for c, (sel, gen) in enumerate(row):
        x0, x1 = COL_X[c]
        y0, y1 = ROW_Y[r]
        ax = fig.add_axes([fx(x0), fy(y1), (x1 - x0) / W, (y1 - y0) / H])
        gx, gy = zip(*gen)
        sx, sy = zip(*sel)
        ax.scatter(gx, gy, s=3.4, marker="s", color=GEN_COLOR, linewidths=0, zorder=2)
        ax.scatter(sx, sy, s=3.4, marker="s", color=SEL_COLOR, linewidths=0, zorder=3)
        ax.set_xlim(*X_LIMS[c])
        ax.set_ylim(*Y_LIMS[c])
        ax.set_xticks(X_TICKS[c])
        ax.set_yticks(Y_TICKS[c])
        ax.tick_params(direction="out", length=3, width=0.7, pad=2.5,
                       labelsize=8, colors=TICK_COLOR)
        for lab in ax.get_xticklabels() + ax.get_yticklabels():
            lab.set_family(SERIF)
        for sp in ax.spines.values():
            sp.set_linewidth(0.9)
            sp.set_color("#222222")
        ax.set_xlabel(X_LABELS[c], family=SERIF, fontsize=7.4, color="#333333", labelpad=5)
        ax.text(0.005, 1.015, Y_LABELS[c], transform=ax.transAxes, family=SERIF,
                fontsize=7.4, color="#333333", ha="left", va="bottom")
        if c == 0:
            handles = [Line2D([], [], marker="o", linestyle="none", markersize=2.4,
                              markerfacecolor=SEL_COLOR, markeredgewidth=0),
                       Line2D([], [], marker="o", linestyle="none", markersize=2.4,
                              markerfacecolor=GEN_COLOR, markeredgewidth=0)]
            leg = ax.legend(handles, SERIES, loc="upper right", prop={"family": SERIF, "size": 5.4},
                            frameon=True, fancybox=True, edgecolor="#cccccc",
                            borderaxespad=0.3, borderpad=0.7, labelspacing=0.8,
                            handlelength=1.6, handletextpad=1.1)
            leg.get_frame().set_linewidth(0.6)

fig.savefig("out.png", dpi=100)
